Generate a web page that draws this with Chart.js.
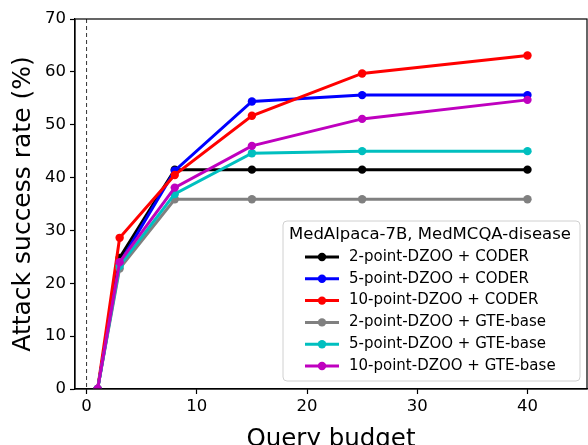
<!DOCTYPE html>
<html>
<head>
<meta charset="utf-8">
<script src="https://cdn.jsdelivr.net/npm/chart.js@4"></script>
<style>
  html, body { margin: 0; padding: 0; background: #fff; }
  #wrap { width: 588px; height: 445px; }
</style>
</head>
<body>
<div id="wrap"><canvas id="myChart" width="588" height="445"></canvas></div>
<script>
// query budgets on the x axis
var budgets = [1, 3, 8, 15, 25, 40];

var seriesNames = [
  '2-point-DZOO + CODER',
  '5-point-DZOO + CODER',
  '10-point-DZOO + CODER',
  '2-point-DZOO + GTE-base',
  '5-point-DZOO + GTE-base',
  '10-point-DZOO + GTE-base'
];

var coder2 = [0, 24.8, 41.5, 41.5, 41.5, 41.5];
var coder5 = [0, 23.8, 41.3, 54.4, 55.6, 55.6];
var coder10 = [0, 28.6, 40.5, 51.7, 59.7, 63.1];
var gte2 = [0, 22.8, 35.9, 35.9, 35.9, 35.9];
var gte5 = [0, 23.3, 36.9, 44.6, 45.0, 45.0];
var gte10 = [0, 24.0, 38.1, 46.0, 51.1, 54.7];

var yTicks = [0, 10, 20, 30, 40, 50, 60, 70];
var xTicks = [0, 10, 20, 30, 40];

var colors = ['#000000', '#0000ff', '#ff0000', '#808080', '#00bfbf', '#bf00bf'];
var allValues = [coder2, coder5, coder10, gte2, gte5, gte10];

var FONT = "'DejaVu Sans', sans-serif";

var datasets = allValues.map(function (vals, i) {
  return {
    label: seriesNames[i],
    data: vals.map(function (v, j) { return { x: budgets[j], y: v }; }),
    borderColor: colors[i],
    backgroundColor: colors[i],
    borderWidth: 3,
    pointRadius: 4.2,
    pointHoverRadius: 4.2,
    pointBorderWidth: 0,
    tension: 0,
    order: 5 - i
  };
});

// box spines, dashed line at x=0 and the legend inside the plot
var extras = {
  id: 'extras',
  beforeDatasetsDraw: function (chart) {
    var ctx = chart.ctx, a = chart.chartArea;
    var x0 = chart.scales.x.getPixelForValue(0);
    ctx.save();
    ctx.strokeStyle = '#333';
    ctx.lineWidth = 1;
    ctx.setLineDash([4, 3]);
    ctx.beginPath();
    ctx.moveTo(x0, a.top);
    ctx.lineTo(x0, a.bottom);
    ctx.stroke();
    ctx.restore();
  },
  afterDraw: function (chart) {
    var ctx = chart.ctx, a = chart.chartArea;
    ctx.save();
    ctx.strokeStyle = '#000';
    ctx.lineWidth = 1.2;
    ctx.strokeRect(a.left, a.top, a.right - a.left, a.bottom - a.top);

    // legend
    var bx = 283, by = 221, bw = 297, bh = 160, r = 4;
    ctx.fillStyle = 'rgba(255,255,255,0.85)';
    ctx.strokeStyle = '#d0d0d0';
    ctx.lineWidth = 1;
    ctx.beginPath();
    ctx.roundRect(bx, by, bw, bh, r);
    ctx.fill();
    ctx.stroke();

    ctx.fillStyle = '#000';
    ctx.textBaseline = 'middle';
    ctx.textAlign = 'left';
    ctx.font = '16.5px ' + FONT;
    ctx.fillText('MedAlpaca-7B, MedMCQA-disease', 289, 235);

    ctx.font = '15px ' + FONT;
    for (var i = 0; i < seriesNames.length; i++) {
      var ry = 257 + i * 21.8;
      ctx.strokeStyle = colors[i];
      ctx.lineWidth = 3;
      ctx.beginPath();
      ctx.moveTo(305, ry);
      ctx.lineTo(339, ry);
      ctx.stroke();
      ctx.fillStyle = colors[i];
      ctx.beginPath();
      ctx.arc(322, ry, 4.2, 0, Math.PI * 2);
      ctx.fill();
      ctx.fillStyle = '#000';
      ctx.fillText(seriesNames[i], 349, ry);
    }
    ctx.restore();
  }
};

new Chart(document.getElementById('myChart'), {
  type: 'line',
  data: { datasets: datasets },
  plugins: [extras],
  options: {
    responsive: false,
    animation: false,
    events: [],
    layout: { autoPadding: false, padding: { top: 19, right: 1, left: 0, bottom: 0 } },
    plugins: { legend: { display: false }, tooltip: { enabled: false } },
    scales: {
      x: {
        type: 'linear',
        min: -1.05,
        max: 45.4,
        afterBuildTicks: function (scale) {
          scale.ticks = xTicks.map(function (v) { return { value: v }; });
        },
        afterFit: function (scale) {
          scale.height = 56;
          scale.paddingLeft = 0;
          scale.paddingRight = 0;
        },
        grid: { drawOnChartArea: false, tickLength: 5, color: '#000', tickWidth: 1.2 },
        border: { display: true, color: '#000', width: 1.2 },
        ticks: { font: { family: FONT, size: 16.5 }, color: '#000', padding: 3, maxRotation: 0 },
        title: {
          display: true, text: 'Query budget', color: '#000',
          font: { family: FONT, size: 24.5 }, padding: { top: 0, bottom: -9 }
        }
      },
      y: {
        type: 'linear',
        min: 0,
        max: 70,
        afterBuildTicks: function (scale) {
          scale.ticks = yTicks.map(function (v) { return { value: v }; });
        },
        afterFit: function (scale) { scale.width = 75; },
        grid: { drawOnChartArea: false, tickLength: 5, color: '#000', tickWidth: 1.2 },
        border: { display: true, color: '#000', width: 1.2 },
        ticks: { font: { family: FONT, size: 16.5 }, color: '#000', padding: 4 },
        title: {
          display: true, text: 'Attack success rate (%)', color: '#000',
          font: { family: FONT, size: 25 }, padding: { top: 8, bottom: 0 }
        }
      }
    }
  }
});
</script>
</body>
</html>
